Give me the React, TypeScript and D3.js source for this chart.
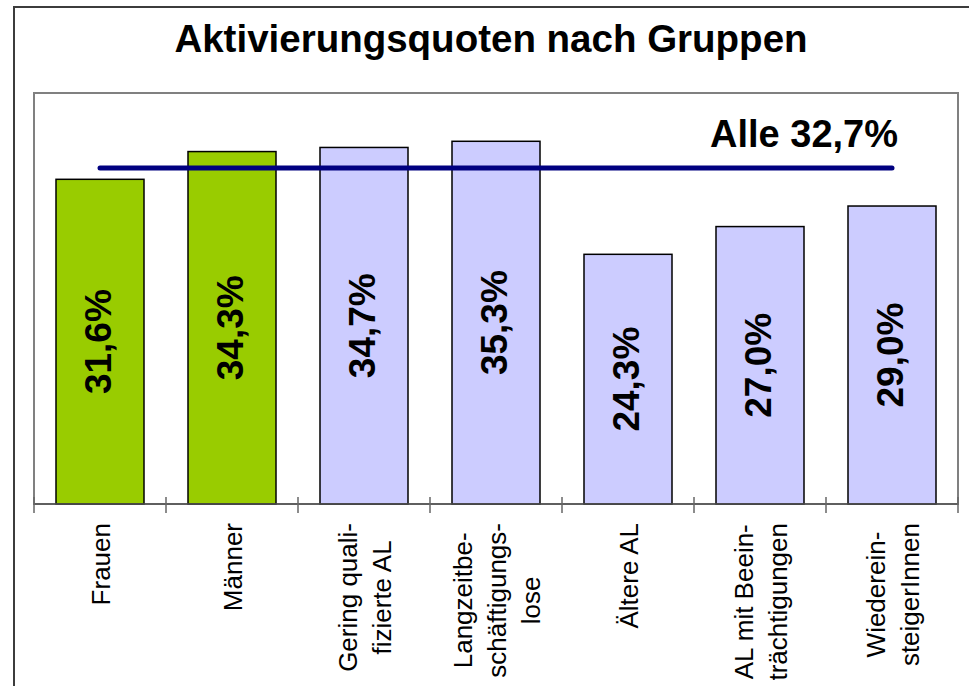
import React, { useEffect, useRef } from 'react';
import * as d3 from 'd3';

const categories = [
  ['Frauen'],
  ['Männer'],
  ['Gering quali-', 'fizierte AL'],
  ['Langzeitbe-', 'schäftigungs-', 'lose'],
  ['Ältere AL'],
  ['AL mit Beein-', 'trächtigungen'],
  ['Wiederein-', 'steigerInnen'],
];
const values = [31.6, 34.3, 34.7, 35.3, 24.3, 27.0, 29.0];
const valueLabels = ['31,6%', '34,3%', '34,7%', '35,3%', '24,3%', '27,0%', '29,0%'];
const barColors = ['#99CC00', '#99CC00', '#CCCCFF', '#CCCCFF', '#CCCCFF', '#CCCCFF', '#CCCCFF'];
const average = 32.7;
const averageLabel = 'Alle 32,7%';
const title = 'Aktivierungsquoten nach Gruppen';

const FONT = '"Liberation Sans", Arial, Helvetica, sans-serif';

const App = () => {
  const chartRef = useRef<SVGSVGElement>(null);

  useEffect(() => {
    drawChart();
  }, []);

  const drawChart = () => {
    const W = 969;
    const H = 686;
    const plot = { left: 34, top: 93, right: 958, bottom: 504 };

    const svg = d3.select(chartRef.current);
    svg.selectAll('*').remove();
    svg.attr('width', W).attr('height', H).style('font-family', FONT);

    svg.append('rect').attr('width', W).attr('height', H).attr('fill', '#fff');

    // outer frame (runs past the right and bottom edges)
    svg
      .append('rect')
      .attr('x', 14)
      .attr('y', 7)
      .attr('width', 980)
      .attr('height', 720)
      .attr('fill', 'none')
      .attr('stroke', '#3c3c3c')
      .attr('stroke-width', 2);

    svg
      .append('text')
      .attr('x', 491)
      .attr('y', 52)
      .attr('text-anchor', 'middle')
      .attr('font-size', 38.5)
      .attr('font-weight', 'bold')
      .attr('fill', '#000')
      .text(title);

    // plot area
    svg
      .append('rect')
      .attr('x', plot.left)
      .attr('y', plot.top)
      .attr('width', plot.right - plot.left)
      .attr('height', plot.bottom - plot.top)
      .attr('fill', '#fff')
      .attr('stroke', '#808080')
      .attr('stroke-width', 2);

    const idx = values.map((_, i) => String(i));
    const x = d3
      .scaleBand()
      .domain(idx)
      .range([plot.left, plot.right])
      .paddingInner(1 / 3)
      .paddingOuter(1 / 6);
    const step = x.step();
    const cx = (i: number) => (x(String(i)) as number) + x.bandwidth() / 2;

    const y = d3.scaleLinear().domain([0, 40]).range([plot.bottom, plot.top]);

    const g = svg.append('g');

    g.selectAll('.bar')
      .data(values)
      .enter()
      .append('rect')
      .attr('class', 'bar')
      .attr('x', (_, i) => x(String(i)) as number)
      .attr('y', d => y(d))
      .attr('width', x.bandwidth())
      .attr('height', d => y(0) - y(d))
      .attr('fill', (_, i) => barColors[i])
      .attr('stroke', '#000')
      .attr('stroke-width', 1.5);

    // value labels inside bars
    g.selectAll('.val')
      .data(values)
      .enter()
      .append('text')
      .attr('class', 'val')
      .attr('transform', (d, i) => `translate(${cx(i)},${(y(d) + y(0)) / 2}) rotate(-90)`)
      .attr('text-anchor', 'middle')
      .attr('y', 11)
      .attr('font-size', 37)
      .attr('font-weight', 'bold')
      .attr('fill', '#000')
      .text((_, i) => valueLabels[i]);

    // category axis
    g.append('line')
      .attr('x1', plot.left)
      .attr('x2', plot.right)
      .attr('y1', y(0))
      .attr('y2', y(0))
      .attr('stroke', '#555')
      .attr('stroke-width', 1.5);

    const ticks = d3.range(values.length + 1).map(i => plot.left + i * step);
    g.selectAll('.tick')
      .data(ticks)
      .enter()
      .append('line')
      .attr('x1', d => d)
      .attr('x2', d => d)
      .attr('y1', y(0) - 7)
      .attr('y2', y(0) + 9)
      .attr('stroke', '#666')
      .attr('stroke-width', 1.5);

    // category labels, rotated, lines centered, block top-aligned
    const labelTop = 523;
    const lineGap = 34;
    categories.forEach((lines, i) => {
      const lg = g.append('g').attr('transform', `translate(${cx(i)},${labelTop}) rotate(-90)`);
      const texts = lines.map((s, k) =>
        lg
          .append('text')
          .attr('text-anchor', 'middle')
          .attr('y', (k - (lines.length - 1) / 2) * lineGap + 9.5)
          .attr('font-size', 26)
          .attr('fill', '#000')
          .text(s)
      );
      const maxLen = d3.max(texts, t => (t.node() as SVGTextElement).getComputedTextLength()) || 0;
      texts.forEach(t => t.attr('x', -maxLen / 2));
    });

    // average line
    g.append('line')
      .attr('x1', cx(0))
      .attr('x2', cx(values.length - 1))
      .attr('y1', y(average))
      .attr('y2', y(average))
      .attr('stroke', '#000080')
      .attr('stroke-width', 5)
      .attr('stroke-linecap', 'round');

    g.append('text')
      .attr('x', 898)
      .attr('y', 147)
      .attr('text-anchor', 'end')
      .attr('font-size', 38)
      .attr('font-weight', 'bold')
      .attr('fill', '#000')
      .text(averageLabel);
  };

  return <svg ref={chartRef} style={{ position: 'absolute', left: 0, top: 0, display: 'block' }}></svg>;
};

export default App;
